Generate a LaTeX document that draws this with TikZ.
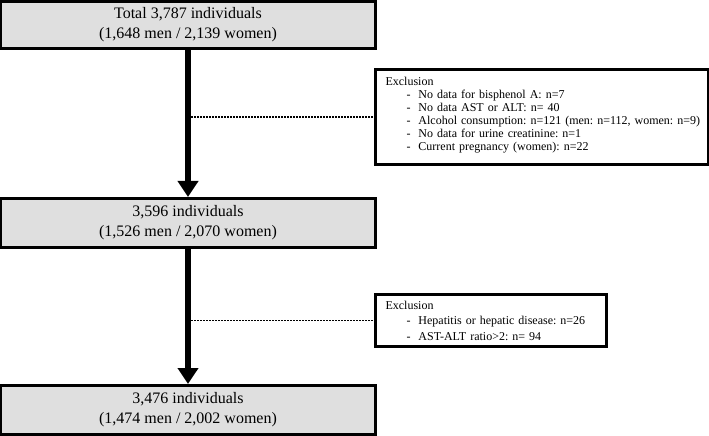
\documentclass[tikz,border=0pt]{standalone}
\usepackage{fontspec}
\setmainfont{Liberation Serif}
\usetikzlibrary{arrows.meta}
\begin{document}
\frenchspacing
\begin{tikzpicture}[x=1bp,y=-1bp,
  mainbox/.style={draw=black, fill=gray!25, line width=3bp, minimum width=374bp, align=center,
    font=\fontsize{16bp}{20bp}\selectfont, inner sep=0pt},
  exbox/.style={draw=black, fill=white, line width=3bp, align=left, anchor=north west,
    inner xsep=0pt, inner ysep=0pt},
  exitem/.style={},
  flow/.style={line width=6bp, -{Triangle[width=20bp,length=16bp]}},
  dotline/.style={line width=1.5bp, dash pattern=on 1.5bp off 1.5bp}]
\useasboundingbox (0,0) rectangle (709,436);
\newcommand{\exi}{\hspace*{7bp}\makebox[33bp][l]{\hspace{21bp}-}}
\node[mainbox, minimum height=47bp] (a) at (188,25) {Total 3,787 individuals\\(1,648 men / 2,139 women)};
\node[mainbox, minimum height=49bp] (b) at (188,223) {3,596 individuals\\(1,526 men / 2,070 women)};
\node[mainbox, minimum height=49bp] (c) at (188,410) {3,476 individuals\\(1,474 men / 2,002 women)};
\draw[flow] (a.south) -- (b.north);
\draw[flow] (b.south) -- (c.north);
\node[exbox, minimum width=333bp, text width=327bp,
  font=\fontsize{12bp}{13bp}\selectfont] (e1) at (374,68)
{\rule{0pt}{16.5bp}\hspace*{7bp}Exclusion\\
\exi No data for bisphenol A: n=7\\
\exi No data AST or ALT: n= 40\\
\exi Alcohol consumption: n=121 (men: n=112, women: n=9)\\
\exi No data for urine creatinine: n=1\\
\exi Current pregnancy (women): n=22\rule[-14bp]{0pt}{0pt}};
\node[exbox, minimum width=231bp, text width=225bp,
  font=\fontsize{12bp}{15.5bp}\selectfont] (e2) at (374,293)
{\rule{0pt}{14.5bp}\hspace*{7bp}Exclusion\\
\exi Hepatitis or hepatic disease: n=26\\
\exi AST-ALT ratio>2: n= 94\rule[-6.5bp]{0pt}{0pt}};
\coordinate (d1) at (a.south |- e1.west);
\coordinate (d2) at (b.south |- e2.west);
\draw[dotline] (d1) -- (e1.west);
\draw[dotline] (d2) -- (e2.west);
\end{tikzpicture}
\end{document}
